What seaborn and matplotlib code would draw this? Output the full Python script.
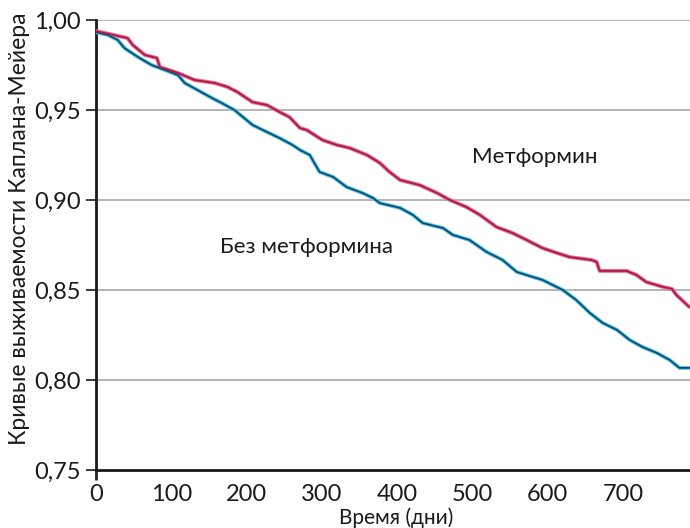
import matplotlib
matplotlib.use("Agg")
import matplotlib.pyplot as plt
import seaborn as sns
import pandas as pd

# Metformin curve (days, survival)
met_days = [0, 42, 49, 65, 81, 85, 109, 131, 158, 175, 188, 208, 227, 244, 257, 271, 280,
            301, 320, 337, 360, 377, 390, 404, 430, 453, 470, 492, 510, 532, 553, 572, 593,
            612, 629, 658, 665, 669, 705, 718, 731, 753, 765, 771, 788]
met_surv = [0.9939, 0.9900, 0.9861, 0.9806, 0.9789, 0.9739, 0.9706, 0.9667, 0.9650, 0.9628,
            0.9600, 0.9544, 0.9528, 0.9489, 0.9461, 0.9400, 0.9389, 0.9333, 0.9306, 0.9289,
            0.9250, 0.9206, 0.9156, 0.9111, 0.9083, 0.9039, 0.9000, 0.8961, 0.8917, 0.8850,
            0.8817, 0.8778, 0.8733, 0.8706, 0.8683, 0.8667, 0.8656, 0.8606, 0.8606, 0.8583,
            0.8544, 0.8517, 0.8506, 0.8472, 0.8406]

# No-metformin curve
no_days = [0, 16, 29, 38, 56, 74, 92, 109, 118, 135, 154, 167, 184, 208, 227, 244, 261, 271,
           284, 297, 315, 333, 354, 368, 377, 404, 421, 434, 461, 474, 496, 519, 540, 559,
           572, 593, 620, 638, 656, 673, 692, 709, 726, 745, 762, 775, 788]
no_surv = [0.9933, 0.9917, 0.9889, 0.9844, 0.9794, 0.9750, 0.9722, 0.9694, 0.9650, 0.9611,
           0.9567, 0.9539, 0.9500, 0.9417, 0.9378, 0.9344, 0.9306, 0.9278, 0.9250, 0.9156,
           0.9128, 0.9072, 0.9039, 0.9011, 0.8983, 0.8956, 0.8917, 0.8872, 0.8844, 0.8806,
           0.8778, 0.8711, 0.8667, 0.8600, 0.8583, 0.8556, 0.8500, 0.8444, 0.8372, 0.8317,
           0.8278, 0.8222, 0.8183, 0.8150, 0.8111, 0.8067, 0.8067]

y_ticks = [0.75, 0.80, 0.85, 0.90, 0.95, 1.00]
y_tick_labels = ["0,75", "0,80", "0,85", "0,90", "0,95", "1,00"]
x_ticks = [0, 100, 200, 300, 400, 500, 600, 700]
x_tick_labels = ["0", "100", "200", "300", "400", "500", "600", "700"]

label_met = "Метформин"
label_no = "Без метформина"

sns.set_theme(style="white")
plt.rcParams["font.family"] = ["Lato", "DejaVu Sans"]

fig = plt.figure(figsize=(6.9, 5.28), dpi=100)
ax = fig.add_axes([0.139, 0.110, 0.861, 0.852])

df_met = pd.DataFrame({"d": met_days, "s": met_surv})
df_no = pd.DataFrame({"d": no_days, "s": no_surv})

# glow underlays
sns.lineplot(data=df_no, x="d", y="s", ax=ax, color="#5cc4ea", linewidth=2.8,
             estimator=None, sort=False, zorder=3)
sns.lineplot(data=df_met, x="d", y="s", ax=ax, color="#e86a92", linewidth=2.8,
             estimator=None, sort=False, zorder=3)
# cores
sns.lineplot(data=df_no, x="d", y="s", ax=ax, color="#0b4f6e", linewidth=1.3,
             estimator=None, sort=False, zorder=4)
sns.lineplot(data=df_met, x="d", y="s", ax=ax, color="#a81d4a", linewidth=1.3,
             estimator=None, sort=False, zorder=4)

ax.set_xlim(0, 789)
ax.set_ylim(0.75, 1.00)
ax.set_yticks(y_ticks)
ax.set_yticklabels(y_tick_labels)
ax.set_xticks(x_ticks)
ax.set_xticklabels(x_tick_labels)

for yv in y_ticks[1:]:
    ax.axhline(yv, color="#a0a0a0", linewidth=1.1, zorder=1)

for side in ["top", "right"]:
    ax.spines[side].set_visible(False)
for side in ["left", "bottom"]:
    ax.spines[side].set_color("#1a1a1a")
    ax.spines[side].set_linewidth(2.0)

ax.tick_params(axis="y", direction="out", length=7, width=1.2, color="#1a1a1a",
               labelsize=17, pad=4, left=True, labelcolor="#1a1a1a")
ax.tick_params(axis="x", direction="out", length=0, labelsize=17, pad=10,
               bottom=True, labelcolor="#1a1a1a")
xt0 = ax.xaxis.get_major_ticks()[0]
xt0.tick1line.set_markersize(7)
xt0.tick1line.set_markeredgewidth(2.0)
xt0.tick1line.set_color("#1a1a1a")

ax.set_xlabel("Время (дни)", fontsize=15, color="#1a1a1a")
ax.xaxis.set_label_coords(0.505, -0.084)
ax.set_ylabel("Кривые выживаемости Каплана-Мейера", fontsize=16.5, color="#1a1a1a")
ax.yaxis.set_label_coords(-0.111, 0.535)

ax.text(499, 0.924, label_met, fontsize=16, color="#1a1a1a", va="center", ha="left")
ax.text(165, 0.874, label_no, fontsize=16, color="#1a1a1a", va="center", ha="left")

fig.savefig("out.png", dpi=100)
